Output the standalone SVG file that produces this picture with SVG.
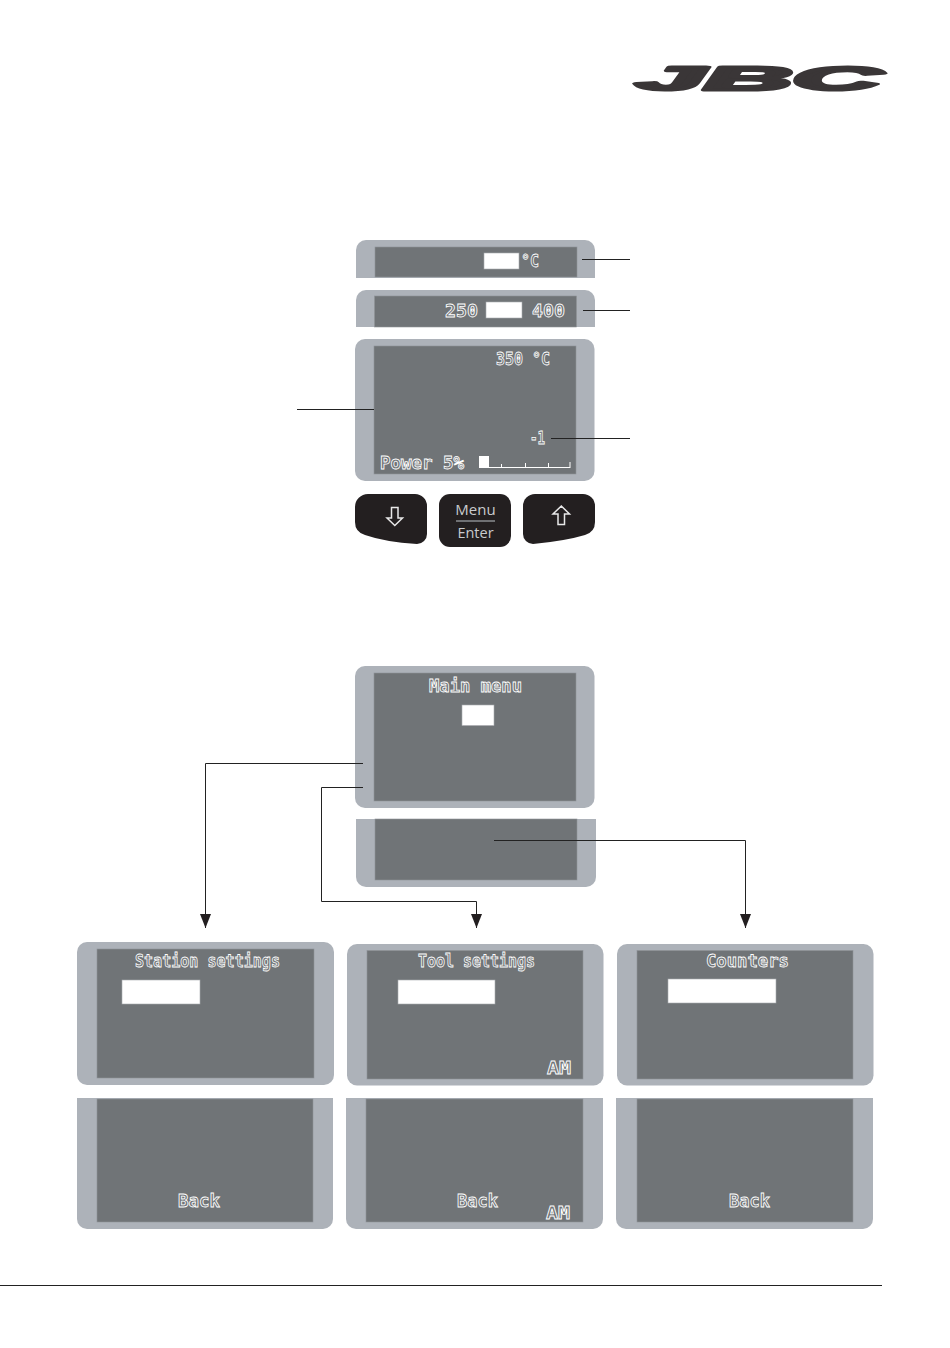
<svg xmlns="http://www.w3.org/2000/svg" width="950" height="1348" viewBox="0 0 950 1348">
<defs>
<style>
.bez{fill:#adb2b9}
.scr{fill:#707477;stroke:#8f9398;stroke-width:.6}
.box{fill:#fff;stroke:#a8abb0;stroke-width:.6}
.lcd{font-family:"DejaVu Sans Mono","Liberation Mono",monospace;font-size:17px;font-weight:bold;fill:#707477;stroke:#fff;stroke-width:.8}
.lead{fill:none;stroke:#222;stroke-width:1}
.btn{fill:#231f20}
.key{font-family:"Open Sans","Liberation Sans",sans-serif;font-size:15px;fill:#c9cbce;text-anchor:middle}
.ico{fill:none;stroke:#e8e8e8;stroke-width:1.5;stroke-linejoin:miter}
</style>
<marker id="tip" markerUnits="userSpaceOnUse" markerWidth="14" markerHeight="11" refX="14" refY="5.500" orient="auto" viewBox="0 0 14 11"><path d="M0 0L14 5.500L0 11Z" fill="#231f20"/></marker>
</defs>
<rect width="950" height="1348" fill="#fff"/>

<g id="logo"><text transform="translate(636 89.500) scale(3.6 1)" font-family="Liberation Sans,sans-serif" font-size="34" font-weight="bold" font-style="italic" fill="#3a3637" stroke="#3a3637" stroke-width="3" stroke-linejoin="round">JBC</text></g>

<g id="panel-setpoint">
<path class="bez" d="M356 278V250a10 10 0 0 1 10-10H585a10 10 0 0 1 10 10V278Z"/>
<rect class="scr" x="375" y="247" width="202" height="30"/>
<rect class="box" x="484" y="253" width="35" height="16"/>
<text class="lcd" x="521" y="267" textLength="18" lengthAdjust="spacingAndGlyphs">°C</text>
</g>
<g id="panel-range">
<path class="bez" d="M356 327V300a10 10 0 0 1 10-10H585a10 10 0 0 1 10 10V327Z"/>
<rect class="scr" x="374.500" y="296" width="202" height="31"/>
<text class="lcd" x="445" y="317" textLength="33" lengthAdjust="spacingAndGlyphs">250</text>
<rect class="box" x="486" y="302" width="36" height="16"/>
<text class="lcd" x="532" y="317" textLength="33" lengthAdjust="spacingAndGlyphs">400</text>
</g>
<g id="panel-work">
<rect class="bez" x="355" y="339" width="239.500" height="142" rx="10"/>
<rect class="scr" x="374" y="346" width="202" height="128"/>
<text class="lcd" x="496" y="365" textLength="54" lengthAdjust="spacingAndGlyphs">350 °C</text>
<text class="lcd" x="530" y="444" textLength="15" lengthAdjust="spacingAndGlyphs">-1</text>
<text class="lcd" x="380" y="469" textLength="84" lengthAdjust="spacingAndGlyphs">Power 5%</text>
<rect x="479" y="456" width="10" height="12" fill="#fff"/>
<path d="M489 467.500H570.500M501.500 464V467M525.500 463V467M548.500 463V467M570 462V467" stroke="#fff" stroke-width="1" fill="none"/>
</g>

<g id="btn-down">
<path class="btn" d="M368 494H415a12 12 0 0 1 12 12V534a10 10 0 0 1-10 10Q385 542 365 535Q355 532 355 522V507a13 13 0 0 1 13-13Z"/>
<path class="ico" d="M391.500 507.500H398V518H402.500L394.800 525.500L387 518H391.500Z"/>
</g>
<g id="btn-menu">
<rect class="btn" x="439" y="494" width="72" height="53" rx="11"/>
<text class="key" x="475.500" y="515">Menu</text>
<path d="M456 521H495" stroke="#8a8c8f" stroke-width="1.500"/>
<text class="key" x="475.500" y="538" style="font-size:14.500px">Enter</text>
</g>
<g id="btn-up">
<path class="btn" d="M535 494H583a12 12 0 0 1 12 12V522Q595 532 585 535Q565 541 533 544a10 10 0 0 1-10-10V506a12 12 0 0 1 12-12Z"/>
<path class="ico" d="M558 524.500H564.500V514H569.500L561.300 506L553 514H558Z"/>
</g>

<g id="main-menu">
<rect class="bez" x="355" y="666" width="239.500" height="142" rx="10"/>
<rect class="scr" x="374" y="673" width="202" height="128"/>
<text class="lcd" x="429" y="692" textLength="93" lengthAdjust="spacingAndGlyphs">Main menu</text>
<rect class="box" x="462" y="705" width="32" height="20.500"/>
</g>
<g id="main-menu-lower">
<path class="bez" d="M356 819H596V877a10 10 0 0 1-10 10H366a10 10 0 0 1-10-10Z"/>
<rect class="scr" x="375" y="819" width="202" height="61"/>
</g>

<g id="station-settings">
<rect class="bez" x="77" y="942" width="257" height="143" rx="10"/>
<rect class="scr" x="97" y="949" width="217" height="129"/>
<text class="lcd" x="135" y="967" textLength="145" lengthAdjust="spacingAndGlyphs">Station settings</text>
<rect class="box" x="122" y="980" width="78" height="24"/>
</g>
<g id="station-settings-lower">
<path class="bez" d="M77 1098H333V1219a10 10 0 0 1-10 10H87a10 10 0 0 1-10-10Z"/>
<rect class="scr" x="97" y="1099" width="216" height="123"/>
<text class="lcd" x="178" y="1207" textLength="42" lengthAdjust="spacingAndGlyphs">Back</text>
</g>

<g id="tool-settings">
<rect class="bez" x="347" y="944" width="256.500" height="141.500" rx="10"/>
<rect class="scr" x="367" y="950.500" width="216" height="128.500"/>
<text class="lcd" x="418" y="967" textLength="117" lengthAdjust="spacingAndGlyphs">Tool settings</text>
<rect class="box" x="398" y="980" width="97" height="24"/>
<text class="lcd" x="547" y="1074" textLength="24" lengthAdjust="spacingAndGlyphs">AM</text>
</g>
<g id="tool-settings-lower">
<path class="bez" d="M346 1098H603V1219a10 10 0 0 1-10 10H356a10 10 0 0 1-10-10Z"/>
<rect class="scr" x="366" y="1099" width="217" height="123"/>
<text class="lcd" x="457" y="1207" textLength="41" lengthAdjust="spacingAndGlyphs">Back</text>
<text class="lcd" x="546" y="1219" textLength="24" lengthAdjust="spacingAndGlyphs">AM</text>
</g>

<g id="counters">
<rect class="bez" x="617" y="944" width="256.500" height="141.500" rx="10"/>
<rect class="scr" x="637" y="950.500" width="216" height="128.500"/>
<text class="lcd" x="706" y="967" textLength="83" lengthAdjust="spacingAndGlyphs">Counters</text>
<rect class="box" x="668" y="979" width="108" height="24"/>
</g>
<g id="counters-lower">
<path class="bez" d="M616 1098H873V1219a10 10 0 0 1-10 10H626a10 10 0 0 1-10-10Z"/>
<rect class="scr" x="637" y="1099" width="216" height="123"/>
<text class="lcd" x="729" y="1207" textLength="41" lengthAdjust="spacingAndGlyphs">Back</text>
</g>

<g id="connectors">
<path class="lead" d="M582 259.500H630"/>
<path class="lead" d="M583 310.500H630"/>
<path class="lead" d="M297 409.500H374"/>
<path class="lead" d="M551 438.500H630"/>
<path class="lead" d="M363 763.500H205.500V928" marker-end="url(#tip)"/>
<path class="lead" d="M363 787.500H321.500V901.500H476.500V928" marker-end="url(#tip)"/>
<path class="lead" d="M494 840.500H745.500V928" marker-end="url(#tip)"/>
<path d="M0 1285.500H882" stroke="#222" stroke-width="1" fill="none"/>
</g>
</svg>
